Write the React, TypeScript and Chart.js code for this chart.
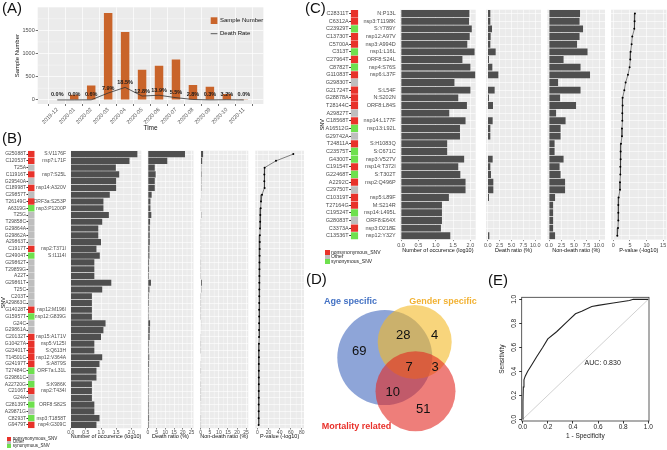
import React, { useEffect, useRef } from 'react';
import { Chart, registerables } from 'chart.js';

const FONT = '"Liberation Sans", Arial, Helvetica, sans-serif';

/* ---------------- (A) samples per month ---------------- */
const months = ['2019-12', '2020-01', '2020-02', '2020-03', '2020-04', '2020-05', '2020-06', '2020-07', '2020-08', '2020-09', '2020-10', '2020-11'];
const sampleNumber = [8, 110, 310, 1870, 1465, 650, 735, 870, 320, 285, 125, 2];
const deathCount = [0, 0, 2, 148, 270, 83, 101, 48, 9, 1, 4, 0];
const deathRate = [0.0, 0.0, 0.6, 7.9, 18.5, 12.8, 13.9, 5.5, 2.8, 0.3, 3.2, 0.0];
const aYTicks = [0, 500, 1000, 1500];

/* ---------------- (B) mortality SNVs ---------------- */
const bSnv = ['G25088T', 'C12053T', 'T25A', 'C11916T', 'G29540A', 'C18998T', 'C29857T', 'T26149C', 'A6319G', 'T25G', 'T29858C', 'G29864A', 'G29862A', 'A29863T', 'C1917T', 'C24904T', 'G29862T', 'T29859G', 'A22T', 'G29861T', 'T25C', 'C203T', 'A29863C', 'G14028T', 'G15957T', 'G24C', 'G29861A', 'C20132T', 'G10427A', 'G23401T', 'T14501C', 'G24197T', 'T27484C', 'G29861C', 'A22720G', 'C2106T', 'G24A', 'C28139T', 'A29871G', 'C8293T', 'G9479T'];
const bGene = ['S:V1176F', 'nsp7:L71F', '', 'nsp7:S25L', '', 'nsp14:A320V', '', 'ORF3a:S253P', 'nsp3:P1200P', '', '', '', '', '', 'nsp2:T371I', 'S:I1114I', '', '', '', '', '', '', '', 'nsp12:M196I', 'nsp12:G839G', '', '', 'nsp15:A171V', 'nsp5:V125I', 'S:Q613H', 'nsp12:V364A', 'S:A879S', 'ORF7a:L31L', '', 'S:K986K', 'nsp2:T434I', '', 'ORF8:S82S', '', 'nsp3:T1858T', 'nsp4:G309C'];
const bType = ['N', 'N', 'O', 'N', 'O', 'N', 'O', 'N', 'S', 'O', 'O', 'O', 'O', 'O', 'N', 'S', 'O', 'O', 'O', 'O', 'O', 'O', 'O', 'N', 'S', 'O', 'O', 'N', 'N', 'N', 'N', 'N', 'S', 'O', 'S', 'N', 'O', 'S', 'O', 'S', 'N'];
const bOccur = [2.20, 1.94, 1.49, 1.60, 1.50, 1.50, 1.29, 1.08, 1.08, 1.26, 1.04, 0.91, 0.91, 1.00, 0.85, 0.96, 0.78, 0.78, 0.78, 1.34, 1.04, 0.70, 0.70, 0.70, 0.70, 1.15, 1.08, 1.00, 0.78, 0.78, 1.04, 0.95, 0.85, 0.85, 0.70, 0.70, 0.70, 0.78, 0.78, 0.95, 0.85];
const bDeath = [21.3, 11.1, 3.9, 4.4, 3.9, 3.9, 2.1, 1.4, 1.4, 1.9, 1.2, 1.0, 1.0, 1.0, 0.8, 0.8, 0.6, 0.6, 0.5, 1.7, 0.8, 0.5, 0.5, 0.4, 0.4, 1.2, 1.0, 0.9, 0.5, 0.5, 0.7, 0.6, 0.5, 0.5, 0.4, 0.4, 0.4, 0.5, 0.5, 0.6, 0.5];
const bNonDeath = [1.3, 0.8, 0.3, 0.4, 0.3, 0.3, 0.2, 0.1, 0.1, 0.3, 0.1, 0.1, 0.1, 0.1, 0.1, 0.1, 0.05, 0.05, 0.05, 0.6, 0.3, 0.05, 0.05, 0.05, 0.05, 0.2, 0.15, 0.1, 0.05, 0.05, 0.15, 0.1, 0.05, 0.1, 0.05, 0.05, 0.05, 0.1, 0.1, 0.05, 0.05];
const bPval = [64.7, 33.4, 12.9, 12.3, 12.3, 12.9, 8.1, 6.3, 5.7, 5.1, 4.8, 4.5, 4.3, 4.1, 3.9, 3.8, 3.6, 3.5, 3.4, 3.3, 3.2, 3.1, 3.0, 2.9, 2.9, 2.8, 2.7, 2.7, 2.6, 2.5, 2.5, 2.4, 2.4, 2.3, 2.3, 2.2, 2.2, 2.1, 2.1, 2.0, 2.0];

/* ---------------- (C) second SNV set ---------------- */
const cSnv = ['C28311T', 'C6312A', 'C23929T', 'C13730T', 'C5700A', 'C313T', 'C27964T', 'C8782T', 'G11083T', 'G29830T', 'G21724T', 'G28878A', 'T28144C', 'A29827T', 'C18568T', 'A16512G', 'G29742A', 'T24811A', 'C23575T', 'G4300T', 'C19154T', 'G22468T', 'A2292C', 'C29750T', 'C10319T', 'T27164G', 'C19524T', 'G28083T', 'C3373A', 'C13536T'];
const cGene = ['N:P13L', 'nsp3:T1198K', 'S:Y789Y', 'nsp12:A97V', 'nsp3:A994D', 'nsp1:L16L', 'ORF8:S24L', 'nsp4:S76S', 'nsp6:L37F', '', 'S:L54F', 'N:S202N', 'ORF8:L84S', '', 'nsp14:L177F', 'nsp13:L92L', '', 'S:H1083Q', 'S:C671C', 'nsp3:V527V', 'nsp14:T372I', 'S:T302T', 'nsp2:Q496P', '', 'nsp5:L89F', 'M:S214R', 'nsp14:L495L', 'ORF8:E64X', 'nsp3:D218E', 'nsp12:Y32Y'];
const cType = ['N', 'N', 'S', 'N', 'N', 'S', 'N', 'S', 'N', 'O', 'N', 'N', 'N', 'O', 'N', 'S', 'O', 'N', 'S', 'S', 'N', 'S', 'N', 'O', 'N', 'N', 'S', 'O', 'N', 'S'];
const cOccur = [1.97, 1.96, 2.04, 1.98, 1.91, 2.12, 1.77, 2.0, 2.14, 1.54, 2.0, 1.65, 1.90, 1.39, 1.86, 1.70, 1.70, 1.33, 1.33, 1.82, 1.65, 1.71, 1.86, 1.86, 1.38, 1.18, 1.18, 1.18, 1.15, 1.42];
const cDeath = [0.55, 0.55, 0.9, 0.62, 0.55, 1.67, 0.27, 0.97, 2.23, 0, 1.46, 0.27, 1.11, 0, 1.04, 0.55, 0.55, 0, 0, 1.04, 0.55, 0.69, 1.18, 1.18, 0.27, 0, 0, 0, 0, 0.34];
const cNonDeath = [6.2, 6.1, 6.8, 6.1, 5.6, 7.7, 2.9, 6.3, 8.2, 1.8, 6.3, 2.2, 5.4, 1.4, 3.3, 2.3, 2.3, 1.1, 1.1, 2.9, 2.1, 2.3, 3.2, 3.2, 1.2, 0.8, 0.8, 0.8, 0.8, 1.2];
const cPval = [6.5, 6.4, 6.3, 5.7, 5.5, 5.2, 5.1, 4.9, 4.4, 3.7, 3.3, 2.8, 2.8, 2.7, 2.7, 2.6, 2.6, 2.3, 2.2, 2.2, 2.1, 2.1, 2.0, 2.0, 1.6, 1.5, 1.5, 1.5, 1.4, 1.2];

const snvTypeNames = ['nonsynonymous_SNV', 'Other', 'synonymous_SNV'];
const TYPE_COLOR: any = { N: '#E8322A', O: '#BEBEBE', S: '#6EE04E' };
const LEG_KEYS = ['N', 'O', 'S'];

/* ---------------- (D) Venn ---------------- */
const vennSets = ['Age specific', 'Gender specific', 'Mortality related'];
const vennCounts = [69, 28, 4, 7, 3, 10, 51];

/* ---------------- (E) ROC ---------------- */
const rocFpr = [0, 0.002, 0.005, 0.01, 0.02, 0.04, 0.07, 0.11, 0.16, 0.2, 0.27, 0.35, 0.42, 0.47, 0.55, 0.6, 0.72, 0.85, 0.88, 1.0];
const rocTpr = [0, 0.15, 0.27, 0.33, 0.36, 0.4, 0.45, 0.52, 0.6, 0.67, 0.73, 0.81, 0.88, 0.9, 0.94, 0.95, 0.97, 0.99, 1.0, 1.0];
const rocTicks = [0, 0.2, 0.4, 0.6, 0.8, 1.0];
const aucValue = 0.83;

/* ---------------- plugins ---------------- */
function drawText(ctx: any, it: any, ox: number, oy: number) {
  ctx.save();
  ctx.font = `${it.bold ? 'bold ' : ''}${it.size}px ${FONT}`;
  ctx.fillStyle = it.color || '#000';
  ctx.textAlign = it.align || 'center';
  ctx.textBaseline = 'middle';
  ctx.translate(it.x - ox, it.y - oy);
  if (it.rot) ctx.rotate((it.rot * Math.PI) / 180);
  ctx.fillText(it.text, 0, 0);
  ctx.restore();
}

const ggPanel = {
  id: 'ggpanel',
  beforeDraw(chart: any, _a: any, opts: any) {
    if (!opts || !opts.bg) return;
    const { ctx, chartArea: a } = chart;
    ctx.save();
    ctx.fillStyle = opts.bg;
    ctx.fillRect(a.left, a.top, a.right - a.left, a.bottom - a.top);
    ctx.strokeStyle = '#FFFFFF';
    ctx.lineWidth = opts.minorWidth || 0.35;
    for (const id of opts.minor || []) {
      const s = chart.scales[id];
      const vals = s.ticks.map((t: any) => t.value);
      if (vals.length < 2) continue;
      const step = vals[1] - vals[0];
      const mids = [vals[0] - step / 2, ...vals.map((v: number) => v + step / 2)];
      for (const m of mids) {
        if (m < s.min || m > s.max) continue;
        const p = s.getPixelForValue(m);
        ctx.beginPath();
        if (s.isHorizontal()) { ctx.moveTo(p, a.top); ctx.lineTo(p, a.bottom); }
        else { ctx.moveTo(a.left, p); ctx.lineTo(a.right, p); }
        ctx.stroke();
      }
    }
    ctx.restore();
  },
};

const textPlugin = {
  id: 'texts',
  afterDraw(chart: any, _a: any, opts: any) {
    if (!opts) return;
    const ox = opts.ox || 0, oy = opts.oy || 0;
    for (const it of opts.items || []) drawText(chart.ctx, it, ox, oy);
    if (opts.yTicks) {
      const s = chart.scales.y;
      for (const v of opts.yTicks.values) {
        drawText(chart.ctx, { text: v.toFixed(1), x: opts.yTicks.x, y: s.getPixelForValue(v) + oy, rot: -90, size: opts.yTicks.size, color: opts.yTicks.color }, ox, oy);
      }
    }
  },
};

Chart.register(...registerables, ggPanel, textPlugin);
Chart.defaults.font.family = FONT;
Chart.defaults.color = '#4D4D4D';

/* ---------------- layout helpers ---------------- */
type Area = { l: number; t: number; r: number; b: number };
function geom(a: Area, e: Area) {
  const cx = Math.floor(a.l - e.l), cy = Math.floor(a.t - e.t);
  const cw = Math.ceil(a.r + e.r) - cx, ch = Math.ceil(a.b + e.b) - cy;
  return { cx, cy, cw, ch, yW: a.l - cx, xH: cy + ch - a.b, pT: a.t - cy, pR: cx + cw - a.r };
}
const zeroPad = (s: any) => { s.paddingLeft = 0; s.paddingRight = 0; s.paddingTop = 0; s.paddingBottom = 0; };
const fixW = (w: number) => (s: any) => { s.width = w; zeroPad(s); };
const fixH = (h: number) => (s: any) => { s.height = h; zeroPad(s); };
const tickList = (min: number, max: number, step: number) => {
  const out: number[] = [];
  for (let k = Math.ceil(min / step - 1e-9); k * step <= max + 1e-9; k++) out.push(+(k * step).toFixed(6));
  return out;
};
const setTicks = (vals: number[]) => (s: any) => { s.ticks = vals.map((v) => ({ value: v })); };
const lay = (padding: any) => ({ autoPadding: false, padding });

const BASE = { animation: false, responsive: false, devicePixelRatio: 1, events: [] as any[] };
const NOPLUG = { legend: { display: false }, tooltip: { enabled: false } };

function ChartBox({ g, build }: any) {
  const ref = useRef<HTMLCanvasElement>(null);
  useEffect(() => {
    const chart = new Chart(ref.current as any, build(g));
    return () => chart.destroy();
  }, []);
  return (
    <canvas ref={ref} width={g.cw} height={g.ch}
      style={{ position: 'absolute', left: g.cx, top: g.cy, width: g.cw, height: g.ch, display: 'block' }} />
  );
}

/* ---------------- panel builders ---------------- */
function stripCfg(rows: string[], types: string[], tick: number, snvTitle: { x: number; y: number }) {
  return (g: any) => ({
    type: 'bar',
    data: {
      labels: rows,
      datasets: [{ data: rows.map(() => 1), backgroundColor: types.map((t) => TYPE_COLOR[t]), barPercentage: 0.95, categoryPercentage: 1 }],
    },
    options: {
      ...BASE,
      indexAxis: 'y',
      layout: lay({ top: g.pT, right: g.pR, bottom: g.xH, left: 0 }),
      plugins: { ...NOPLUG, texts: { ox: g.cx, oy: g.cy, items: [{ text: 'SNV', x: snvTitle.x, y: snvTitle.y, rot: -90, size: 5.5 }] } },
      scales: {
        x: { display: false, min: 0, max: 1 },
        y: {
          type: 'category', offset: true,
          ticks: { autoSkip: false, padding: 0.5, color: '#4D4D4D', font: { size: tick } },
          grid: { drawOnChartArea: false, drawTicks: true, tickLength: 1.5, tickColor: '#333333', offset: false },
          border: { display: false },
          afterFit: fixW(g.yW),
        },
      },
    },
  });
}

function panelCfg(p: any) {
  return (g: any) => {
    const isLine = p.kind === 'line';
    const ds: any = isLine
      ? { data: p.values, borderColor: '#333333', borderWidth: 0.6, pointRadius: 1, pointBackgroundColor: '#000', pointBorderWidth: 0, tension: 0 }
      : { data: p.values, backgroundColor: '#4F4F4F', barPercentage: 0.9, categoryPercentage: 1 };
    return {
      type: isLine ? 'line' : 'bar',
      data: { labels: p.rows, datasets: [ds] },
      options: {
        ...BASE,
        indexAxis: 'y',
        layout: lay({ top: g.pT, right: g.pR, bottom: 0, left: 0 }),
        plugins: { ...NOPLUG, ggpanel: { bg: '#EBEBEB', minor: ['x'] } },
        scales: {
          x: {
            type: 'linear', min: p.min, max: p.max,
            afterBuildTicks: setTicks(tickList(p.min, p.max, p.step)),
            ticks: {
              autoSkip: false, maxRotation: 0, minRotation: 0,
              padding: p.tickPad, color: '#4D4D4D', font: { size: p.tick },
              callback: (v: number) => v.toFixed(p.dec),
            },
            grid: { color: '#FFFFFF', lineWidth: 0.6, tickColor: '#333333', tickLength: p.tickLen, drawTicks: true },
            border: { display: false },
            title: { display: true, text: p.title, color: '#111', font: { size: p.titleSize }, padding: { top: 0, bottom: p.titlePad } },
            afterFit: fixH(g.xH),
          },
          y: {
            type: 'category', offset: true,
            ticks: {
              display: !!p.labels, autoSkip: false, padding: p.yPad || 2, color: '#4D4D4D', font: { size: p.tick },
              callback: (_v: any, i: number) => (p.labels ? p.labels[i] : ''),
            },
            grid: { color: '#FFFFFF', lineWidth: 0.6, offset: false, drawTicks: false },
            border: { display: false },
            afterFit: fixW(g.yW),
          },
        },
      },
    };
  };
}

/* ---------------- geometry ---------------- */
const gA = geom({ l: 37.7, t: 7.3, r: 263.4, b: 104 }, { l: 37.7, t: 7.3, r: 4.6, b: 29 });

const B_T = 150.7, B_B = 428.3, B_X = 440 - 428.3;
const bArea = (l: number, r: number) => ({ l, t: B_T, r, b: B_B });
const gBs = geom(bArea(28, 34.7), { l: 28, t: 0, r: 0.3, b: 0 });
const gBn = geom(bArea(70.7, 141.3), { l: 36, t: 0, r: 3, b: B_X });
const gBd = geom(bArea(147.3, 193.5), { l: 4, t: 0, r: 4, b: B_X });
const gBo = geom(bArea(200, 248.3), { l: 4, t: 0, r: 4, b: B_X });
const gBp = geom(bArea(255.3, 304), { l: 4, t: 0, r: 5, b: B_X });

const C_T = 9.7, C_B = 239.6, C_X = 254 - 239.6;
const cArea = (l: number, r: number) => ({ l, t: C_T, r, b: C_B });
const gCs = geom(cArea(350.7, 358.3), { l: 32.7, t: 0, r: 0.7, b: 0 });
const gCn = geom(cArea(400, 475.7), { l: 40, t: 0, r: 3, b: C_X });
const gCd = geom(cArea(486, 541), { l: 4, t: 0, r: 5, b: C_X });
const gCo = geom(cArea(547.3, 605), { l: 4, t: 0, r: 5, b: C_X });
const gCp = geom(cArea(611, 666.5), { l: 4, t: 0, r: 0.5, b: C_X });

const gD = { cx: 315, cy: 292, cw: 180, ch: 150 };
const gE = geom({ l: 521.7, t: 297.3, r: 649, b: 421 }, { l: 26.7, t: 7.3, r: 6, b: 24 });

const bAxis = { tick: 5, tickLen: 1.2, tickPad: 0, titleSize: 5.5, titlePad: 0.7 };
const cAxis = { tick: 5.5, tickLen: 1.5, tickPad: 0.6, titleSize: 5.5, titlePad: 0.7 };

/* ---------------- (A) config ---------------- */
const ORANGE = '#C9642A';
function buildA(g: any) {
  return {
    type: 'bar',
    data: {
      datasets: [
        { type: 'line', label: 'Death Rate', data: deathCount.map((v, i) => ({ x: i, y: v })), borderColor: '#333333', borderWidth: 0.8, pointRadius: 0, order: 0 },
        { type: 'bar', label: 'Sample Number', data: sampleNumber.map((v, i) => ({ x: i, y: v })), backgroundColor: ORANGE, barPercentage: 0.5, categoryPercentage: 1, order: 1 },
      ],
    },
    options: {
      ...BASE,
      layout: lay({ top: g.pT, right: g.pR, left: 0, bottom: 0 }),
      plugins: { ...NOPLUG, ggpanel: { bg: '#EBEBEB', minor: ['y'] } },
      scales: {
        x: {
          type: 'linear', min: -0.6, max: 11.6,
          afterBuildTicks: setTicks(months.map((_m, i) => i)),
          ticks: { autoSkip: false, minRotation: 45, maxRotation: 45, padding: 0.5, color: '#4D4D4D', font: { size: 5.5 }, callback: (v: number) => months[v] ?? '' },
          grid: { color: '#FFFFFF', lineWidth: 0.7, tickColor: '#333333', tickLength: 2 },
          border: { display: false },
          title: { display: true, text: 'Time', color: '#111', font: { size: 6.5 }, padding: { top: 0, bottom: 1.2 } },
          afterFit: fixH(g.xH),
        },
        y: {
          min: -88, max: 1995,
          afterBuildTicks: setTicks(aYTicks),
          ticks: { padding: 1, color: '#4D4D4D', font: { size: 5.5 }, callback: (v: number) => String(v) },
          grid: { color: '#FFFFFF', lineWidth: 0.7, tickColor: '#333333', tickLength: 2 },
          border: { display: false },
          title: { display: true, text: 'Sample Number', color: '#111', font: { size: 6 }, padding: { top: 13.9, bottom: 0 } },
          afterFit: fixW(g.yW),
        },
      },
    },
    plugins: [
      {
        id: 'aLabels',
        afterDatasetsDraw(chart: any) {
          const ctx = chart.ctx;
          const meta = chart.getDatasetMeta(0);
          ctx.save();
          ctx.font = `bold 5.5px ${FONT}`;
          ctx.fillStyle = '#1A1A1A';
          ctx.textAlign = 'center';
          ctx.textBaseline = 'bottom';
          meta.data.forEach((pt: any, i: number) => ctx.fillText(deathRate[i].toFixed(1) + '%', pt.x, pt.y - 2.2));
          const a = chart.chartArea;
          const lx = a.right - 52.7, ly = a.top + 10;
          ctx.fillStyle = ORANGE;
          ctx.fillRect(lx, ly, 6.7, 6.7);
          ctx.strokeStyle = '#333333';
          ctx.lineWidth = 0.8;
          ctx.beginPath(); ctx.moveTo(lx, ly + 16.4); ctx.lineTo(lx + 6.7, ly + 16.4); ctx.stroke();
          ctx.fillStyle = '#111';
          ctx.font = `6px ${FONT}`;
          ctx.textAlign = 'left';
          ctx.textBaseline = 'middle';
          ctx.fillText(chart.data.datasets[1].label, lx + 9.3, ly + 3.4);
          ctx.fillText(chart.data.datasets[0].label, lx + 9.3, ly + 16.4);
          ctx.restore();
        },
      },
    ],
  };
}

/* ---------------- (D) config ---------------- */
const vennGeo = [
  { x: 384.8, y: 357.5, r: 47.5, fill: 'rgba(66,105,190,0.6)', label: '#4472C4', lx: 350.5, ly: 301.7 },
  { x: 414.7, y: 342, r: 37, fill: 'rgba(243,185,37,0.6)', label: '#F2B233', lx: 443, ly: 301.7 },
  { x: 415.5, y: 391.3, r: 40, fill: 'rgba(227,40,34,0.6)', label: '#E8302A', lx: 356.5, ly: 426.7 },
];
const vennCountPos = [
  [359.3, 351], [403.3, 335.7], [434.7, 335.7], [409, 367.7], [435, 367.7], [392.7, 392.7], [423.3, 409.3],
];
function buildD(g: any) {
  return {
    type: 'bubble',
    data: {
      datasets: vennSets.map((name, i) => ({
        label: name,
        data: [{ x: vennGeo[i].x - g.cx, y: vennGeo[i].y - g.cy, r: vennGeo[i].r }],
        backgroundColor: vennGeo[i].fill, borderWidth: 0, order: 3 - i, clip: false,
      })),
    },
    options: {
      ...BASE,
      layout: lay(0),
      plugins: {
        ...NOPLUG,
        texts: {
          ox: g.cx, oy: g.cy,
          items: [
            ...vennCounts.map((c, i) => ({ text: String(c), x: vennCountPos[i][0], y: vennCountPos[i][1], size: 13, color: '#111' })),
            ...vennSets.map((s, i) => ({ text: s, x: vennGeo[i].lx, y: vennGeo[i].ly, size: 9, bold: true, color: vennGeo[i].label })),
          ],
        },
      },
      scales: {
        x: { display: false, min: 0, max: g.cw },
        y: { display: false, min: 0, max: g.ch, reverse: true },
      },
    },
  };
}

/* ---------------- (E) config ---------------- */
function buildE(g: any) {
  return {
    type: 'scatter',
    data: {
      datasets: [
        { label: 'ROC', data: rocFpr.map((x, i) => ({ x, y: rocTpr[i] })), showLine: true, borderColor: '#222222', borderWidth: 1.1, pointRadius: 0, order: 0 },
        { label: 'chance', data: [{ x: 0, y: 0 }, { x: 1, y: 1 }], showLine: true, borderColor: '#BDBDBD', borderWidth: 0.7, pointRadius: 0, order: 1 },
      ],
    },
    options: {
      ...BASE,
      layout: lay({ top: g.pT, right: g.pR, left: 0, bottom: 0 }),
      plugins: {
        ...NOPLUG,
        texts: {
          ox: g.cx, oy: g.cy,
          items: [{ text: 'AUC: ' + aucValue.toFixed(3), x: 602.7, y: 362.7, size: 7, color: '#222' }],
          yTicks: { values: rocTicks, x: 514.2, size: 6.5, color: '#222' },
        },
      },
      scales: {
        x: {
          type: 'linear', min: -0.008, max: 1.0055,
          afterBuildTicks: setTicks(rocTicks),
          ticks: { maxRotation: 0, padding: 0, color: '#222', font: { size: 6.5 }, callback: (v: number) => v.toFixed(1) },
          grid: { drawOnChartArea: false, tickColor: '#333', tickLength: 2.5 },
          border: { display: false },
          title: { display: true, text: '1 - Specificity', color: '#222', font: { size: 6.5 }, padding: { top: 0, bottom: 5.1 } },
          afterFit: fixH(g.xH),
        },
        y: {
          type: 'linear', min: -0.014, max: 1.017,
          afterBuildTicks: setTicks(rocTicks),
          ticks: { color: 'rgba(0,0,0,0)', font: { size: 6.5 }, padding: 0, callback: () => '' },
          grid: { drawOnChartArea: false, tickColor: '#333', tickLength: 2.5 },
          border: { display: false },
          title: { display: true, text: 'Sensitivity', color: '#222', font: { size: 6.5 }, padding: { top: 3.5, bottom: 0 } },
          afterFit: fixW(g.yW),
        },
      },
    },
    plugins: [
      {
        id: 'rocBox',
        afterDraw(chart: any) {
          const { ctx, chartArea: a } = chart;
          ctx.save();
          ctx.strokeStyle = '#333';
          ctx.lineWidth = 0.8;
          ctx.strokeRect(a.left, a.top, a.right - a.left, a.bottom - a.top);
          ctx.restore();
        },
      },
    ],
  };
}

/* ---------------- chart list ---------------- */
const charts: any[] = [
  { g: gA, build: buildA },
  { g: gBs, build: stripCfg(bSnv, bType, 5, { x: 3, y: 302.7 }) },
  { g: gBn, build: panelCfg({ ...bAxis, rows: bSnv, values: bOccur, labels: bGene, yPad: 4.7, min: 0, max: 2.33, step: 0.5, dec: 1, title: 'Number of occurence (log10)' }) },
  { g: gBd, build: panelCfg({ ...bAxis, rows: bSnv, values: bDeath, min: -0.4, max: 26.2, step: 5, dec: 0, title: 'Death ratio (%)' }) },
  { g: gBo, build: panelCfg({ ...bAxis, rows: bSnv, values: bNonDeath, min: -0.4, max: 26.2, step: 5, dec: 0, title: 'Non-death ratio (%)' }) },
  { g: gBp, build: panelCfg({ ...bAxis, kind: 'line', rows: bSnv, values: bPval, min: -4, max: 84, step: 20, dec: 0, title: 'P-value (-log10)' }) },
  { g: gCs, build: stripCfg(cSnv, cType, 5.5, { x: 322.5, y: 124.7 }) },
  { g: gCn, build: panelCfg({ ...cAxis, rows: cSnv, values: cOccur, labels: cGene, yPad: 4.3, min: -0.03, max: 2.153, step: 0.5, dec: 1, title: 'Number of occurence (log10)' }) },
  { g: gCd, build: panelCfg({ ...cAxis, rows: cSnv, values: cDeath, min: -0.36, max: 11.2, step: 2.5, dec: 1, title: 'Death ratio (%)' }) },
  { g: gCo, build: panelCfg({ ...cAxis, rows: cSnv, values: cNonDeath, min: -0.36, max: 11.2, step: 2.5, dec: 1, title: 'Non-death ratio (%)' }) },
  { g: gCp, build: panelCfg({ ...cAxis, kind: 'line', rows: cSnv, values: cPval, min: -0.7, max: 16.0, step: 5, dec: 0, title: 'P-value (-log10)' }) },
  { g: gD, build: buildD },
  { g: gE, build: buildE },
];

function Legend({ x, y, sq, step, size }: any) {
  return (
    <div style={{ position: 'absolute', left: x, top: y }}>
      {LEG_KEYS.map((k, i) => (
        <div key={k} style={{ position: 'absolute', left: 0, top: i * step, height: step, whiteSpace: 'nowrap', display: 'flex', alignItems: 'center' }}>
          <span style={{ display: 'inline-block', width: sq, height: step, background: TYPE_COLOR[k] }} />
          <span style={{ fontSize: size, lineHeight: 1, color: '#222', marginLeft: 1.5 }}>{snvTypeNames[i]}</span>
        </div>
      ))}
    </div>
  );
}

const letterStyle = (left: number, top: number): any => ({ position: 'absolute', left, top, fontSize: 15, lineHeight: '15px', color: '#111', fontFamily: FONT });

export default function App() {
  return (
    <div style={{ position: 'fixed', left: 0, top: 0, width: 667, height: 450, background: '#FFFFFF', overflow: 'hidden', fontFamily: FONT }}>
      {charts.map((c, i) => <ChartBox key={i} g={c.g} build={c.build} />)}
      <div style={letterStyle(2, 0)}>(A)</div>
      <div style={letterStyle(2, 130)}>(B)</div>
      <div style={letterStyle(305, 0)}>(C)</div>
      <div style={letterStyle(306, 271)}>(D)</div>
      <div style={letterStyle(488, 272)}>(E)</div>
      <Legend x={7.3} y={437} sq={4} step={3.7} size={4.5} />
      <Legend x={325} y={250} sq={4.5} step={4.6} size={5} />
    </div>
  );
}
